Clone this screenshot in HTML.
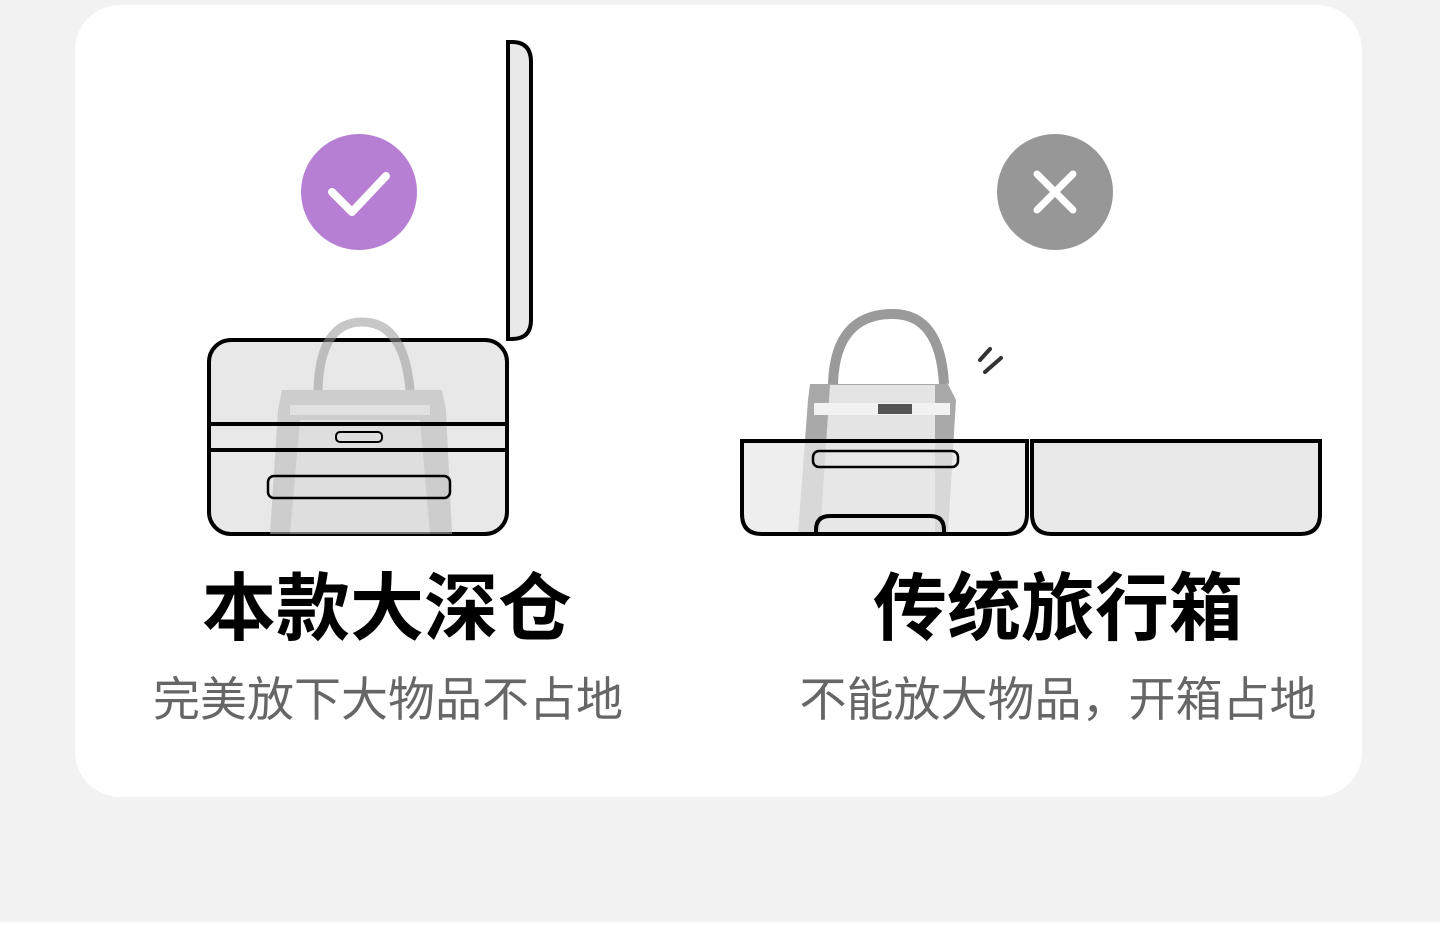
<!DOCTYPE html>
<html><head><meta charset="utf-8"><style>
html,body{margin:0;padding:0;background:#fff;}
body{width:1440px;height:951px;position:relative;overflow:hidden;font-family:"Liberation Sans","Noto Sans CJK SC",sans-serif;}
.t{position:absolute;text-align:center;white-space:nowrap;}
</style></head><body>
<svg width="1440" height="951" style="position:absolute;left:0;top:0">
<rect x="-60" y="-60" width="1560" height="982" rx="52" fill="#f2f2f2"/>
<rect x="75" y="5" width="1287" height="792" rx="45" fill="#fff"/>
<circle cx="359" cy="192" r="58" fill="#b77fd3"/>
<path d="M332 192 L352 212 L386 176" stroke="#fff" stroke-width="8" fill="none" stroke-linecap="round" stroke-linejoin="round"/>
<circle cx="1055" cy="192" r="58" fill="#979797"/>
<path d="M1037 174 L1073 210 M1073 174 L1037 210" stroke="#fff" stroke-width="7" stroke-linecap="round"/>
<path d="M508 42 L508 339 L512 339 Q531 339 531 320 L531 62 Q531 42 512 42 Z" fill="#e8e8e8" stroke="#000" stroke-width="4"/>
<rect x="209" y="340" width="298" height="194" rx="22" fill="#e8e8e8" stroke="#000" stroke-width="4"/>
<g opacity="0.55">
<path d="M318 390 Q320 322 362 322 Q404 322 410 390" stroke="#999" stroke-width="9" fill="none"/>
<path d="M282 390 L442 390 L446 410 L452 534 L270 534 L278 410 Z" fill="#b8b8b8"/>
<rect x="290" y="405" width="140" height="10" fill="#ddd"/>
<path d="M300 420 L420 420 L430 534 L290 534 Z" fill="#d6d6d6"/>
</g>
<line x1="211" y1="424" x2="505" y2="424" stroke="#000" stroke-width="4"/>
<line x1="211" y1="450" x2="505" y2="450" stroke="#000" stroke-width="4"/>
<rect x="336" y="432" width="46" height="10" rx="4" fill="none" stroke="#000" stroke-width="2"/>
<rect x="268" y="476" width="182" height="22" rx="6" fill="none" stroke="#000" stroke-width="2.5"/>
<path d="M833 384 Q835 314 893 314 Q940 314 944 384" stroke="#9a9a9a" stroke-width="10" fill="none"/>
<path d="M810 384 L948 384 L956 400 L948 534 L798 534 L808 400 Z" fill="#a9a9a9"/>
<path d="M830 385 L935 385 L935 534 L820 534 Z" fill="#e4e4e4"/>
<rect x="814" y="403" width="136" height="12" fill="#f2f2f2"/>
<rect x="878" y="404" width="34" height="10" fill="#555"/>
<path d="M980 360 L990 349 M985 372 L1001 358" stroke="#333" stroke-width="4" stroke-linecap="round"/>
<path d="M742 441 L1027 441 L1027 514 Q1027 534 1007 534 L762 534 Q742 534 742 514 Z" fill="#e8e8e8" fill-opacity="0.75" stroke="#000" stroke-width="4"/>
<path d="M1032 441 L1320 441 L1320 514 Q1320 534 1300 534 L1052 534 Q1032 534 1032 514 Z" fill="#e8e8e8" stroke="#000" stroke-width="4"/>
<rect x="813" y="451" width="145" height="16" rx="6" fill="none" stroke="#000" stroke-width="2.5"/>
<path d="M816 534 L816 530 Q816 516 830 516 L930 516 Q944 516 944 530 L944 534" fill="none" stroke="#000" stroke-width="4"/>
</svg>
<div class="t" style="left:187px;top:566px;width:400px;font-size:74px;font-weight:bold;color:#000;line-height:86px;">本款大深仓</div>
<div class="t" style="left:113px;top:670px;width:550px;font-size:47px;color:#666;line-height:60px;">完美放下大物品不占地</div>
<div class="t" style="left:858px;top:566px;width:400px;font-size:74px;font-weight:bold;color:#000;line-height:86px;">传统旅行箱</div>
<div class="t" style="left:758px;top:670px;width:600px;font-size:47px;color:#666;line-height:60px;">不能放大物品，开箱占地</div>
</body></html>
